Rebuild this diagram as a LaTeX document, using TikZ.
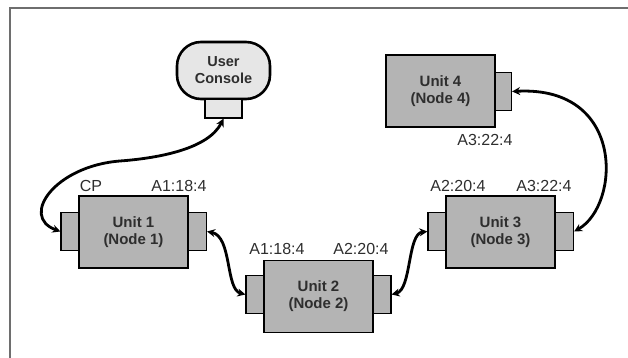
\documentclass[tikz,border=0pt]{standalone}
\usepackage{fontspec}
\setmainfont{Liberation Sans}
\usetikzlibrary{arrows.meta}
\definecolor{unitgray}{HTML}{B4B4B4}
\definecolor{consolefill}{HTML}{E6E6E6}
\definecolor{labelgray}{HTML}{2E2E2E}
\definecolor{framegray}{HTML}{6E6E6E}

\begin{document}
\begin{tikzpicture}[x=1pt,y=-1pt,
  unitbox/.style={draw=black, line width=1.2pt, fill=unitgray,
    minimum width=109pt, minimum height=72pt, inner sep=0pt, align=center,
    font=\fontsize{15}{17}\selectfont\bfseries, text=labelgray},
  portbox/.style={draw=black, line width=1.2pt, fill=unitgray,
    minimum width=18pt, minimum height=38pt, inner sep=0pt},
  addr/.style={inner sep=0pt, font=\fontsize{16}{18}\selectfont, text=labelgray},
  link/.style={line width=2.8pt, line cap=round,
    {Stealth[length=8pt,width=8pt]}-{Stealth[length=8pt,width=8pt]}}
]
% canvas and the two frame edges
\useasboundingbox (0,0) rectangle (628,358);
\draw[framegray, line width=1.3pt] (628,8) -- (10,8) -- (10,358);

% user console and its port
\node[draw=black, line width=2.6pt, fill=consolefill, rounded corners=24pt,
  minimum width=93pt, minimum height=57pt, inner sep=0pt, align=center,
  font=\fontsize{14.5}{17}\selectfont\bfseries, text=labelgray]
  (console) at (223.5,70.5) {User\\Console};
\node[draw=black, line width=1.2pt, fill=consolefill, minimum width=37pt,
  minimum height=19pt, inner sep=0pt] (cport) at (223.5,108.5) {};

% unit 1
\node[portbox] (u1l) at (70,231.5) {};
\node[portbox] (u1r) at (197.5,231.5) {};
\node[unitbox] (u1) at (133.5,232) {Unit 1\\(Node 1)};
\node[addr] (u1a) at (91,186) {CP};
\node[addr] (u1b) at (179,186) {A1:18:4};

% unit 2
\node[portbox] (u2l) at (255,294.5) {};
\node[portbox] (u2r) at (382,294.5) {};
\node[unitbox] (u2) at (318.5,296.5) {Unit 2\\(Node 2)};
\node[addr] (u2a) at (277,249) {A1:18:4};
\node[addr] (u2b) at (361,249) {A2:20:4};

% unit 3
\node[portbox] (u3l) at (437,231.5) {};
\node[portbox] (u3r) at (564.5,231.5) {};
\node[unitbox] (u3) at (500.5,232) {Unit 3\\(Node 3)};
\node[addr] (u3a) at (458,186) {A2:20:4};
\node[addr] (u3b) at (544,186) {A3:22:4};

% unit 4
\node[portbox, minimum width=17pt] (u4r) at (503,91.5) {};
\node[unitbox] (u4) at (440.5,91) {Unit 4\\(Node 4)};
\node[addr] (u4a) at (485,140) {A3:22:4};

% links
\coordinate (k1) at (120,161);
\draw[link] (cport.south) .. controls +(-15,30) and +(40,-3) .. (k1)
  .. controls +(-65,5) and +(-41,-15) .. (u1l.west);
\draw[link] (u1r.east) .. controls +(25,5) and +(-20,-5) .. (u2l.west);
\draw[link] (u2r.east) .. controls +(20,-5) and +(-20,2) .. (u3l.west);
\draw[link] (u3r.east) .. controls +(46,-26) and +(114,-6) .. (u4r.east);
\end{tikzpicture}
\end{document}
